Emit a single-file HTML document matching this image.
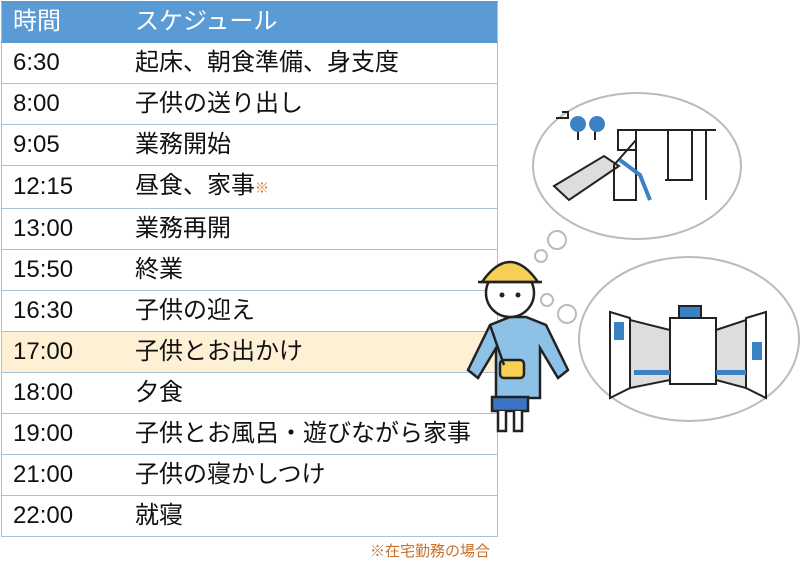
<!DOCTYPE html>
<html><head><meta charset="utf-8"><style>
body{margin:0;width:800px;height:570px;background:#fff;position:relative;overflow:hidden;font-family:"Liberation Sans","Noto Sans CJK JP",sans-serif}
table{position:absolute;left:1px;top:1px;width:497px;border-collapse:collapse;border:1px solid #a9c3dc}
td{height:40px;border-top:1px solid #a9c3dc;border-bottom:1px solid #a9c3dc;font-size:24px;color:#111;padding:0;line-height:40px}
td.t{width:122px;padding-left:11px}
tr.h td{background:#5b9bd5;color:#fff;height:40px;border-color:#5b9bd5}
tr.hl td{background:#fdf0d4}
.note{position:absolute;left:370px;top:540px;font-size:15px;color:#c8702a}
sm{font-size:14px;color:#d9712a}
</style></head><body>
<table>
<tr class="h"><td class="t">時間</td><td>スケジュール</td></tr>
<tr><td class="t">6:30</td><td>起床、朝食準備、身支度</td></tr>
<tr><td class="t">8:00</td><td>子供の送り出し</td></tr>
<tr><td class="t">9:05</td><td>業務開始</td></tr>
<tr><td class="t">12:15</td><td>昼食、家事<sm>※</sm></td></tr>
<tr><td class="t">13:00</td><td>業務再開</td></tr>
<tr><td class="t">15:50</td><td>終業</td></tr>
<tr><td class="t">16:30</td><td>子供の迎え</td></tr>
<tr class="hl"><td class="t">17:00</td><td>子供とお出かけ</td></tr>
<tr><td class="t">18:00</td><td>夕食</td></tr>
<tr><td class="t">19:00</td><td>子供とお風呂・遊びながら家事</td></tr>
<tr><td class="t">21:00</td><td>子供の寝かしつけ</td></tr>
<tr><td class="t">22:00</td><td>就寝</td></tr>
</table>
<div class="note">※在宅勤務の場合</div>
<svg width="800" height="570" style="position:absolute;left:0;top:0">
<g fill="#fff" stroke="#bbb" stroke-width="2">
<ellipse cx="637" cy="166" rx="104" ry="73"/>
<ellipse cx="689" cy="339" rx="110" ry="82"/>
<circle cx="557" cy="240" r="9"/><circle cx="541" cy="256" r="6"/>
<circle cx="547" cy="300" r="6"/><circle cx="567" cy="314" r="9"/>
</g>
<g stroke="#222" stroke-width="2" fill="none">
<path d="M556 118h12v-6h-6 M578 130v10 M595 130v10"/>
<path d="M554 186l50-30 15 10-50 34z" fill="#ddd"/>
<path d="M618 130h18v20h-18z M636 140v60h-22v-35z"/>
<path d="M636 130h80 M706 130v70 M668 130v50 M692 130v50 M665 180h28"/>
<path d="M620 160l20 15 10 25" stroke="#3b82c4" stroke-width="4"/>
</g>
<g fill="#3b82c4"><circle cx="578" cy="124" r="8"/><circle cx="597" cy="124" r="8"/></g>
<g stroke="#222" stroke-width="2" fill="#ddd">
<path d="M610 312l20 6v70l-20 10z" fill="#fff"/>
<path d="M630 320l40 10v50l-40 8z"/>
<path d="M670 318h46v66h-46z" fill="#fff"/>
<path d="M716 330l30-10v68l-30-8z"/>
<path d="M746 318l20-6v86l-20-10z" fill="#fff"/>
<rect x="679" y="306" width="22" height="12" fill="#3b82c4"/>
</g>
<g fill="#3b82c4"><rect x="614" y="322" width="10" height="18"/><rect x="752" y="342" width="10" height="18"/><rect x="634" y="370" width="36" height="5"/><rect x="716" y="370" width="30" height="5"/></g>
<g stroke="#222" stroke-width="2.5">
<path d="M490 325l-22 45 10 8 18-30 0 50h44v-50l18 30 10-8-22-45-20-8h-16z" fill="#8ec1e6"/>
<rect x="492" y="397" width="36" height="14" fill="#3b74c4"/>
<path d="M498 411v20h8v-20 M514 411v20h8v-20" fill="#fff"/>
<circle cx="510" cy="293" r="24" fill="#fff"/>
<path d="M482 282q28-40 56 0z" fill="#f6cf55"/>
<path d="M478 282h64" />
<rect x="500" y="360" width="24" height="18" rx="4" fill="#f6cf55"/>
<path d="M490 325l14 40" fill="none"/>
</g>
<g fill="#222"><circle cx="502" cy="295" r="2.5"/><circle cx="518" cy="295" r="2.5"/></g>
</svg>
</body></html>
